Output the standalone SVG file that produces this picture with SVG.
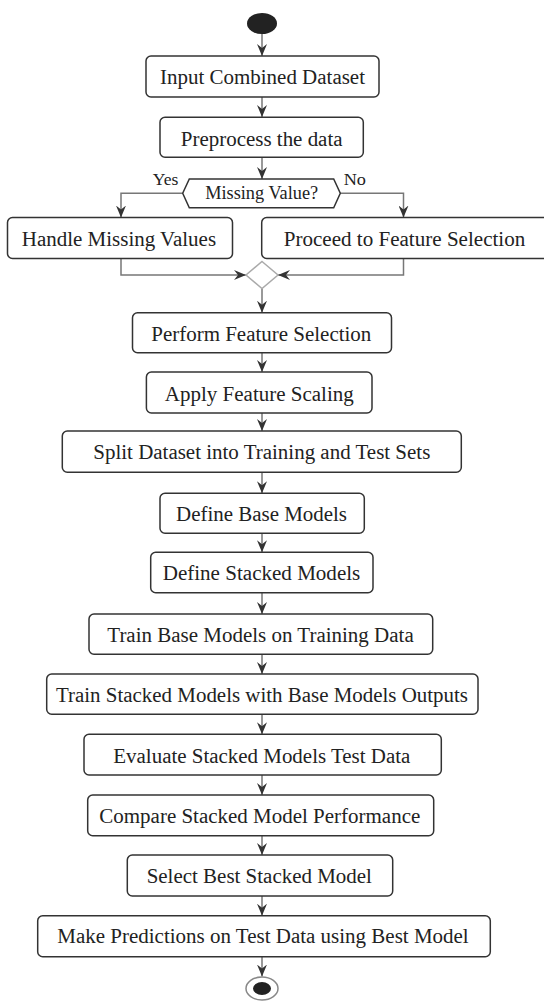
<svg xmlns="http://www.w3.org/2000/svg" width="544" height="1001" viewBox="0 0 544 1001">
<style>
.box{fill:#fff;stroke:#333;stroke-width:1.5}
text{font-family:'Liberation Serif','Times New Roman',Times,serif}
.t{font-size:20.5px;fill:#222;text-anchor:middle}
.s{font-size:17px;fill:#222}
.c{fill:none;stroke:#777;stroke-width:1.5}
</style>
<defs>
<marker id="ah" viewBox="0 0 12 10" refX="12" refY="5" markerWidth="12" markerHeight="10" markerUnits="userSpaceOnUse" orient="auto">
<path d="M0,0 L12,5 L0,10 L4,5 Z" fill="#333"/>
</marker>
</defs>
<rect width="544" height="1001" fill="#fff"/>
<g id="connectors">
<path class="c" d="M262,34 V56" marker-end="url(#ah)"/>
<path class="c" d="M262,97 V117" marker-end="url(#ah)"/>
<path class="c" d="M262,157 V179" marker-end="url(#ah)"/>
<path class="c" d="M182.7,193.3 H121 V217.5" marker-end="url(#ah)"/>
<path class="c" d="M340.3,193.3 H403.5 V217.5" marker-end="url(#ah)"/>
<path class="c" d="M121,258.5 V275 H246" marker-end="url(#ah)"/>
<path class="c" d="M403.5,258.5 V275 H278" marker-end="url(#ah)"/>
<path class="c" d="M262,288.5 V312.7" marker-end="url(#ah)"/>
<path class="c" d="M262,352.7 V372" marker-end="url(#ah)"/>
<path class="c" d="M262,413 V431" marker-end="url(#ah)"/>
<path class="c" d="M262,472.3 V493.3" marker-end="url(#ah)"/>
<path class="c" d="M262,533.3 V552.3" marker-end="url(#ah)"/>
<path class="c" d="M262,592.7 V614" marker-end="url(#ah)"/>
<path class="c" d="M262,654.3 V674" marker-end="url(#ah)"/>
<path class="c" d="M262,714.3 V734.3" marker-end="url(#ah)"/>
<path class="c" d="M262,775 V795" marker-end="url(#ah)"/>
<path class="c" d="M262,835.7 V855" marker-end="url(#ah)"/>
<path class="c" d="M262,896 V915.7" marker-end="url(#ah)"/>
<path class="c" d="M262,956.7 V976.5" marker-end="url(#ah)"/>
<text class="s" x="152.7" y="185" textLength="25.6" lengthAdjust="spacingAndGlyphs">Yes</text>
<text class="s" x="343.7" y="185" textLength="22.3" lengthAdjust="spacingAndGlyphs">No</text>
</g>
<g id="start"><ellipse cx="262" cy="23.5" rx="15" ry="10.5" fill="#222"/></g>
<g id="n1"><rect class="box" x="146" y="56" width="233" height="41" rx="5"/><text class="t" x="262.5" y="84" textLength="205" lengthAdjust="spacingAndGlyphs">Input Combined Dataset</text></g>
<g id="n2"><rect class="box" x="160" y="117.3" width="203.3" height="40" rx="5"/><text class="t" x="261.7" y="146" textLength="161.7" lengthAdjust="spacingAndGlyphs">Preprocess the data</text></g>
<g id="decision"><polygon class="box" points="182.7,193.3 189.3,179 333.7,179 340.3,193.3 333.7,207.7 189.3,207.7"/><text class="t" style="font-size:18px" x="261.7" y="198.5" textLength="113" lengthAdjust="spacingAndGlyphs">Missing Value?</text></g>
<g id="n3"><rect class="box" x="7.5" y="217.5" width="225" height="41" rx="5"/><text class="t" x="118.9" y="246" textLength="194.3" lengthAdjust="spacingAndGlyphs">Handle Missing Values</text></g>
<g id="n4"><rect class="box" x="261.7" y="217.5" width="290" height="41" rx="5"/><text class="t" x="404.5" y="246" textLength="241.6" lengthAdjust="spacingAndGlyphs">Proceed to Feature Selection</text></g>
<g id="merge"><polygon points="262,261.5 278,275 262,288.5 246,275" fill="#fff" stroke="#aaa" stroke-width="1.5"/></g>
<g id="n5"><rect class="box" x="132.5" y="312.7" width="259" height="40" rx="5"/><text class="t" x="261.3" y="340.5" textLength="220" lengthAdjust="spacingAndGlyphs">Perform Feature Selection</text></g>
<g id="n6"><rect class="box" x="146.4" y="372" width="225.6" height="41" rx="5"/><text class="t" x="259.3" y="400.5" textLength="189" lengthAdjust="spacingAndGlyphs">Apply Feature Scaling</text></g>
<g id="n7"><rect class="box" x="62.3" y="431" width="399" height="41.3" rx="5"/><text class="t" x="261.8" y="459.3" textLength="337" lengthAdjust="spacingAndGlyphs">Split Dataset into Training and Test Sets</text></g>
<g id="n8"><rect class="box" x="160" y="493.3" width="204.3" height="40" rx="5"/><text class="t" x="261.5" y="521" textLength="171" lengthAdjust="spacingAndGlyphs">Define Base Models</text></g>
<g id="n9"><rect class="box" x="150.7" y="552.3" width="222.3" height="40.4" rx="5"/><text class="t" x="261.5" y="580" textLength="197.6" lengthAdjust="spacingAndGlyphs">Define Stacked Models</text></g>
<g id="n10"><rect class="box" x="89" y="614" width="343.7" height="40.3" rx="5"/><text class="t" x="260.5" y="641.5" textLength="306.4" lengthAdjust="spacingAndGlyphs">Train Base Models on Training Data</text></g>
<g id="n11"><rect class="box" x="46.7" y="674" width="431.3" height="40.3" rx="5"/><text class="t" x="262" y="701.7" textLength="412" lengthAdjust="spacingAndGlyphs">Train Stacked Models with Base Models Outputs</text></g>
<g id="n12"><rect class="box" x="84" y="734.3" width="357.3" height="40.7" rx="5"/><text class="t" x="261.8" y="762.5" textLength="297" lengthAdjust="spacingAndGlyphs">Evaluate Stacked Models Test Data</text></g>
<g id="n13"><rect class="box" x="87.7" y="795" width="346" height="40.7" rx="5"/><text class="t" x="259.8" y="823.3" textLength="321" lengthAdjust="spacingAndGlyphs">Compare Stacked Model Performance</text></g>
<g id="n14"><rect class="box" x="127.3" y="855" width="265.4" height="41" rx="5"/><text class="t" x="259.3" y="882.7" textLength="225.3" lengthAdjust="spacingAndGlyphs">Select Best Stacked Model</text></g>
<g id="n15"><rect class="box" x="37.7" y="915.7" width="452.6" height="41" rx="5"/><text class="t" x="263" y="943.3" textLength="411.4" lengthAdjust="spacingAndGlyphs">Make Predictions on Test Data using Best Model</text></g>
<g id="end"><ellipse cx="262" cy="988.5" rx="16" ry="11.5" fill="#fff" stroke="#888" stroke-width="1.5"/><ellipse cx="262" cy="988.5" rx="9" ry="6.5" fill="#222"/></g>
</svg>
